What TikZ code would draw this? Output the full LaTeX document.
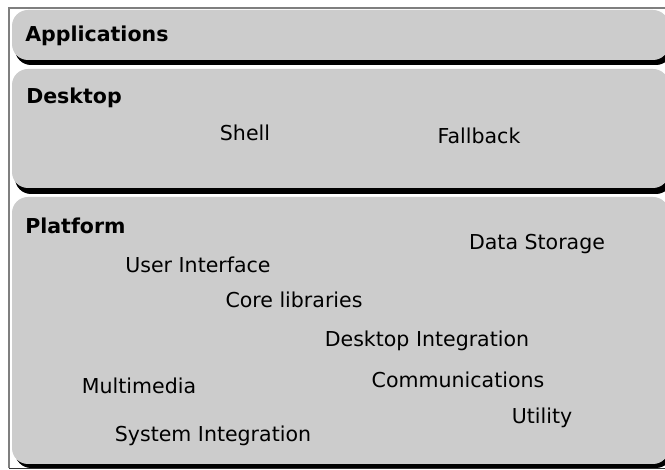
\documentclass[tikz,border=0pt]{standalone}
\usepackage{fontspec}
\setmainfont{DejaVu Sans}
\begin{document}
\begin{tikzpicture}[x=0.75pt,y=-0.75pt,
  layer/.style={fill=boxgray,rounded corners=12pt},
  layershadow/.style={fill=black,rounded corners=12pt},
  title/.style={anchor=base west,font=\fontsize{15.4}{18}\selectfont\bfseries,inner sep=0pt},
  item/.style={anchor=base,font=\fontsize{15.4}{18}\selectfont,inner sep=0pt}]
\definecolor{boxgray}{HTML}{CCCCCC}
\definecolor{framegray}{HTML}{7F7F7F}
\useasboundingbox (0,0) rectangle (665,470);
\clip (0,0) rectangle (665,470);
\fill[white] (0,0) rectangle (665,470);
% outer frame
\draw[framegray,line width=1.2pt] (9,468) -- (9,8) -- (700,8);
\draw[black!80,line width=1pt] (9,468.5) -- (700,468.5);
% layer shadows
\fill[layershadow] (15,14) rectangle (672,65);
\fill[layershadow] (15,73) rectangle (672,194);
\fill[layershadow] (15,201) rectangle (672,468);
% layers
\fill[layer] (12,10) rectangle (669,60);
\fill[layer] (12,69) rectangle (669,188);
\fill[layer] (12,197) rectangle (669,464);
% titles
\node[title] (apps) at (25,42) {Applications};
\node[title] (desk) at (26,104) {Desktop};
\node[title] (plat) at (25,234) {Platform};
% desktop items
\node[item] (shell) at (245,141) {Shell};
\node[item] (fallback) at (479,144) {Fallback};
% platform items
\node[item] (storage) at (537,250) {Data Storage};
\node[item] (ui) at (198,273) {User Interface};
\node[item] (core) at (294,308) {Core libraries};
\node[item] (dint) at (427,347) {Desktop Integration};
\node[item] (mm) at (139,394) {Multimedia};
\node[item] (comm) at (458,388) {Communications};
\node[item] (util) at (542,424) {Utility};
\node[item] (sint) at (213,442) {System Integration};
\end{tikzpicture}
\end{document}
